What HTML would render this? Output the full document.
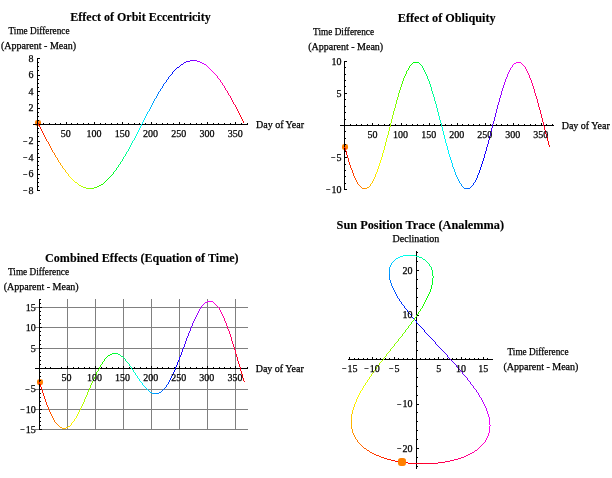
<!DOCTYPE html>
<html><head><meta charset="utf-8"><title>Equation of Time</title>
<style>html,body{margin:0;padding:0;background:#fff}svg{display:block;will-change:transform}text{font-family:"Liberation Serif","Times New Roman",serif;fill:#000;stroke:#000;stroke-width:.25px}text[font-weight=bold]{stroke-width:.12px}</style>
</head><body>
<svg width="612" height="478" viewBox="0 0 612 478">
<rect width="612" height="478" fill="#fff"/>
<rect x="35.00" y="120.00" width="6" height="6" rx="2.16" fill="#ff8000"/>
<g shape-rendering="crispEdges">
<rect x="33" y="124" width="215" height="1" fill="#000"/>
<rect x="37" y="58" width="1" height="133" fill="#000"/>
<rect x="43" y="123" width="1" height="1" fill="#000"/>
<rect x="49" y="123" width="1" height="1" fill="#000"/>
<rect x="55" y="123" width="1" height="1" fill="#000"/>
<rect x="60" y="123" width="1" height="1" fill="#000"/>
<rect x="66" y="122" width="1" height="2" fill="#000"/>
<rect x="71" y="123" width="1" height="1" fill="#000"/>
<rect x="77" y="123" width="1" height="1" fill="#000"/>
<rect x="83" y="123" width="1" height="1" fill="#000"/>
<rect x="88" y="123" width="1" height="1" fill="#000"/>
<rect x="94" y="122" width="1" height="2" fill="#000"/>
<rect x="100" y="123" width="1" height="1" fill="#000"/>
<rect x="105" y="123" width="1" height="1" fill="#000"/>
<rect x="111" y="123" width="1" height="1" fill="#000"/>
<rect x="117" y="123" width="1" height="1" fill="#000"/>
<rect x="122" y="122" width="1" height="2" fill="#000"/>
<rect x="128" y="123" width="1" height="1" fill="#000"/>
<rect x="134" y="123" width="1" height="1" fill="#000"/>
<rect x="139" y="123" width="1" height="1" fill="#000"/>
<rect x="145" y="123" width="1" height="1" fill="#000"/>
<rect x="151" y="122" width="1" height="2" fill="#000"/>
<rect x="156" y="123" width="1" height="1" fill="#000"/>
<rect x="162" y="123" width="1" height="1" fill="#000"/>
<rect x="167" y="123" width="1" height="1" fill="#000"/>
<rect x="173" y="123" width="1" height="1" fill="#000"/>
<rect x="179" y="122" width="1" height="2" fill="#000"/>
<rect x="184" y="123" width="1" height="1" fill="#000"/>
<rect x="190" y="123" width="1" height="1" fill="#000"/>
<rect x="196" y="123" width="1" height="1" fill="#000"/>
<rect x="201" y="123" width="1" height="1" fill="#000"/>
<rect x="207" y="122" width="1" height="2" fill="#000"/>
<rect x="213" y="123" width="1" height="1" fill="#000"/>
<rect x="218" y="123" width="1" height="1" fill="#000"/>
<rect x="224" y="123" width="1" height="1" fill="#000"/>
<rect x="230" y="123" width="1" height="1" fill="#000"/>
<rect x="235" y="122" width="1" height="2" fill="#000"/>
<rect x="241" y="123" width="1" height="1" fill="#000"/>
<rect x="247" y="123" width="1" height="1" fill="#000"/>
<rect x="38" y="190" width="2" height="1" fill="#000"/>
<rect x="38" y="186" width="1" height="1" fill="#000"/>
<rect x="38" y="182" width="1" height="1" fill="#000"/>
<rect x="38" y="178" width="1" height="1" fill="#000"/>
<rect x="38" y="174" width="2" height="1" fill="#000"/>
<rect x="38" y="169" width="1" height="1" fill="#000"/>
<rect x="38" y="165" width="1" height="1" fill="#000"/>
<rect x="38" y="161" width="1" height="1" fill="#000"/>
<rect x="38" y="157" width="2" height="1" fill="#000"/>
<rect x="38" y="153" width="1" height="1" fill="#000"/>
<rect x="38" y="149" width="1" height="1" fill="#000"/>
<rect x="38" y="145" width="1" height="1" fill="#000"/>
<rect x="38" y="141" width="2" height="1" fill="#000"/>
<rect x="38" y="136" width="1" height="1" fill="#000"/>
<rect x="38" y="132" width="1" height="1" fill="#000"/>
<rect x="38" y="128" width="1" height="1" fill="#000"/>
<rect x="38" y="124" width="2" height="1" fill="#000"/>
<rect x="38" y="120" width="1" height="1" fill="#000"/>
<rect x="38" y="116" width="1" height="1" fill="#000"/>
<rect x="38" y="112" width="1" height="1" fill="#000"/>
<rect x="38" y="108" width="2" height="1" fill="#000"/>
<rect x="38" y="103" width="1" height="1" fill="#000"/>
<rect x="38" y="99" width="1" height="1" fill="#000"/>
<rect x="38" y="95" width="1" height="1" fill="#000"/>
<rect x="38" y="91" width="2" height="1" fill="#000"/>
<rect x="38" y="87" width="1" height="1" fill="#000"/>
<rect x="38" y="83" width="1" height="1" fill="#000"/>
<rect x="38" y="79" width="1" height="1" fill="#000"/>
<rect x="38" y="75" width="2" height="1" fill="#000"/>
<rect x="38" y="70" width="1" height="1" fill="#000"/>
<rect x="38" y="66" width="1" height="1" fill="#000"/>
<rect x="38" y="62" width="1" height="1" fill="#000"/>
<rect x="38" y="58" width="2" height="1" fill="#000"/>
</g>
<g shape-rendering="crispEdges">
<path fill="#ff0b00" d="M38 123h1v1h-1zM38 124h1v1h-1zM39 125h1v1h-1zM39 126h1v1h-1zM40 127h1v1h-1zM40 128h1v1h-1z"/>
<path fill="#ff2000" d="M41 129h1v1h-1zM41 130h1v1h-1zM42 131h1v1h-1zM42 132h1v1h-1zM43 133h1v1h-1zM43 134h1v1h-1z"/>
<path fill="#ff3500" d="M44 135h1v1h-1zM44 136h1v1h-1zM45 137h1v1h-1zM45 138h1v1h-1zM46 139h1v1h-1z"/>
<path fill="#ff4a00" d="M46 140h1v1h-1zM47 141h1v1h-1zM48 142h1v1h-1zM48 143h1v1h-1zM49 144h1v1h-1z"/>
<path fill="#ff6000" d="M49 145h1v1h-1zM50 146h1v1h-1zM50 147h1v1h-1zM51 148h1v1h-1zM51 149h1v1h-1zM52 150h1v1h-1z"/>
<path fill="#ff7500" d="M52 151h1v1h-1zM53 152h1v1h-1zM54 153h1v1h-1zM54 154h1v1h-1z"/>
<path fill="#ff8a00" d="M55 155h1v1h-1zM55 156h1v1h-1zM56 157h1v1h-1zM57 158h1v1h-1zM57 159h1v1h-1z"/>
<path fill="#ff9f00" d="M58 160h1v1h-1zM58 161h1v1h-1zM59 162h1v1h-1zM60 163h1v1h-1zM60 164h1v1h-1z"/>
<path fill="#ffb500" d="M61 165h1v1h-1zM62 166h1v1h-1zM62 167h1v1h-1zM63 168h1v1h-1z"/>
<path fill="#ffca00" d="M64 169h1v1h-1zM65 170h1v1h-1zM65 171h1v1h-1zM66 172h1v1h-1z"/>
<path fill="#ffdf00" d="M67 173h1v1h-1zM68 174h1v1h-1zM68 175h1v1h-1z"/>
<path fill="#fff400" d="M69 176h1v1h-1zM70 177h1v1h-1zM71 178h1v1h-1z"/>
<path fill="#f4ff00" d="M72 179h1v1h-1zM73 180h1v1h-1zM74 181h1v1h-1z"/>
<path fill="#dfff00" d="M75 182h1v1h-1zM76 182h1v1h-1zM77 183h1v1h-1z"/>
<path fill="#caff00" d="M78 184h1v1h-1zM79 185h1v1h-1zM80 185h1v1h-1z"/>
<path fill="#b5ff00" d="M81 186h1v1h-1zM82 186h1v1h-1zM83 187h1v1h-1z"/>
<path fill="#9fff00" d="M84 187h1v1h-1zM85 187h1v1h-1zM86 188h1v1h-1z"/>
<path fill="#8aff00" d="M87 188h1v1h-1zM88 188h1v1h-1zM89 188h1v1h-1z"/>
<path fill="#75ff00" d="M90 188h1v1h-1zM91 188h1v1h-1z"/>
<path fill="#60ff00" d="M92 188h1v1h-1zM93 188h1v1h-1zM94 187h1v1h-1z"/>
<path fill="#4aff00" d="M95 187h1v1h-1zM96 187h1v1h-1zM97 186h1v1h-1z"/>
<path fill="#35ff00" d="M98 186h1v1h-1zM99 185h1v1h-1zM100 185h1v1h-1z"/>
<path fill="#20ff00" d="M101 184h1v1h-1zM102 184h1v1h-1zM103 183h1v1h-1z"/>
<path fill="#0bff00" d="M104 182h1v1h-1zM105 181h1v1h-1zM106 180h1v1h-1z"/>
<path fill="#00ff0b" d="M107 179h1v1h-1zM108 178h1v1h-1z"/>
<path fill="#00ff20" d="M109 177h1v1h-1zM110 176h1v1h-1zM111 175h1v1h-1zM112 174h1v1h-1z"/>
<path fill="#00ff35" d="M113 173h1v1h-1zM113 172h1v1h-1zM114 171h1v1h-1z"/>
<path fill="#00ff4a" d="M115 170h1v1h-1zM116 169h1v1h-1zM116 168h1v1h-1zM117 167h1v1h-1z"/>
<path fill="#00ff60" d="M118 166h1v1h-1zM118 165h1v1h-1zM119 164h1v1h-1zM120 163h1v1h-1zM120 162h1v1h-1z"/>
<path fill="#00ff75" d="M121 161h1v1h-1zM122 160h1v1h-1zM122 159h1v1h-1zM123 158h1v1h-1z"/>
<path fill="#00ff8a" d="M123 157h1v1h-1zM124 156h1v1h-1zM125 155h1v1h-1zM125 154h1v1h-1zM126 153h1v1h-1z"/>
<path fill="#00ff9f" d="M126 152h1v1h-1zM127 151h1v1h-1zM128 150h1v1h-1zM128 149h1v1h-1zM129 148h1v1h-1z"/>
<path fill="#00ffb5" d="M129 147h1v1h-1zM130 146h1v1h-1zM130 145h1v1h-1zM131 144h1v1h-1zM131 143h1v1h-1zM132 142h1v1h-1z"/>
<path fill="#00ffca" d="M132 141h1v1h-1zM133 140h1v1h-1zM134 139h1v1h-1zM134 138h1v1h-1zM135 137h1v1h-1z"/>
<path fill="#00ffdf" d="M135 136h1v1h-1zM136 135h1v1h-1zM136 134h1v1h-1zM137 133h1v1h-1zM137 132h1v1h-1zM138 131h1v1h-1z"/>
<path fill="#00fff4" d="M138 130h1v1h-1zM139 129h1v1h-1zM139 128h1v1h-1zM140 127h1v1h-1zM140 126h1v1h-1z"/>
<path fill="#00f4ff" d="M141 125h1v1h-1zM141 124h1v1h-1zM142 123h1v1h-1zM142 122h1v1h-1zM143 121h1v1h-1zM143 120h1v1h-1z"/>
<path fill="#00dfff" d="M144 119h1v1h-1zM144 118h1v1h-1zM145 117h1v1h-1zM145 116h1v1h-1zM146 115h1v1h-1z"/>
<path fill="#00caff" d="M146 114h1v1h-1zM147 113h1v1h-1zM147 112h1v1h-1zM148 111h1v1h-1zM149 110h1v1h-1zM149 109h1v1h-1z"/>
<path fill="#00b5ff" d="M150 108h1v1h-1zM150 107h1v1h-1zM151 106h1v1h-1zM151 105h1v1h-1zM152 104h1v1h-1z"/>
<path fill="#009fff" d="M152 103h1v1h-1zM153 102h1v1h-1zM153 101h1v1h-1zM154 100h1v1h-1zM154 99h1v1h-1z"/>
<path fill="#008aff" d="M155 98h1v1h-1zM156 97h1v1h-1zM156 96h1v1h-1zM157 95h1v1h-1zM157 94h1v1h-1z"/>
<path fill="#0075ff" d="M158 93h1v1h-1zM158 92h1v1h-1zM159 91h1v1h-1zM160 90h1v1h-1zM160 89h1v1h-1z"/>
<path fill="#0060ff" d="M161 88h1v1h-1zM162 87h1v1h-1zM162 86h1v1h-1zM163 85h1v1h-1zM163 84h1v1h-1z"/>
<path fill="#004aff" d="M164 83h1v1h-1zM165 82h1v1h-1zM166 81h1v1h-1zM166 80h1v1h-1z"/>
<path fill="#0035ff" d="M167 79h1v1h-1zM168 78h1v1h-1zM168 77h1v1h-1zM169 76h1v1h-1z"/>
<path fill="#0020ff" d="M170 75h1v1h-1zM171 74h1v1h-1zM172 73h1v1h-1z"/>
<path fill="#000bff" d="M172 72h1v1h-1zM173 71h1v1h-1zM174 70h1v1h-1z"/>
<path fill="#0b00ff" d="M175 69h1v1h-1zM176 68h1v1h-1zM177 67h1v1h-1z"/>
<path fill="#2000ff" d="M178 67h1v1h-1zM179 66h1v1h-1zM180 65h1v1h-1z"/>
<path fill="#3500ff" d="M181 64h1v1h-1zM182 64h1v1h-1zM183 63h1v1h-1z"/>
<path fill="#4a00ff" d="M184 62h1v1h-1zM185 62h1v1h-1zM186 61h1v1h-1z"/>
<path fill="#6000ff" d="M187 61h1v1h-1zM188 61h1v1h-1zM189 61h1v1h-1z"/>
<path fill="#7500ff" d="M190 60h1v1h-1zM191 60h1v1h-1zM192 60h1v1h-1z"/>
<path fill="#8a00ff" d="M193 60h1v1h-1zM194 60h1v1h-1zM195 60h1v1h-1z"/>
<path fill="#9f00ff" d="M196 60h1v1h-1zM197 61h1v1h-1z"/>
<path fill="#b500ff" d="M198 61h1v1h-1zM199 61h1v1h-1zM200 62h1v1h-1z"/>
<path fill="#ca00ff" d="M201 62h1v1h-1zM202 63h1v1h-1zM203 63h1v1h-1z"/>
<path fill="#df00ff" d="M204 64h1v1h-1zM205 64h1v1h-1zM206 65h1v1h-1z"/>
<path fill="#f400ff" d="M207 66h1v1h-1zM208 67h1v1h-1zM209 68h1v1h-1z"/>
<path fill="#ff00f4" d="M210 69h1v1h-1zM211 70h1v1h-1z"/>
<path fill="#ff00df" d="M212 71h1v1h-1zM213 72h1v1h-1zM214 73h1v1h-1zM215 74h1v1h-1z"/>
<path fill="#ff00ca" d="M216 75h1v1h-1zM217 76h1v1h-1zM217 77h1v1h-1z"/>
<path fill="#ff00b5" d="M218 78h1v1h-1zM219 79h1v1h-1zM220 80h1v1h-1zM220 81h1v1h-1z"/>
<path fill="#ff009f" d="M221 82h1v1h-1zM222 83h1v1h-1zM222 84h1v1h-1zM223 85h1v1h-1zM224 86h1v1h-1z"/>
<path fill="#ff008a" d="M224 87h1v1h-1zM225 88h1v1h-1zM225 89h1v1h-1zM226 90h1v1h-1z"/>
<path fill="#ff0075" d="M227 91h1v1h-1zM227 92h1v1h-1zM228 93h1v1h-1zM228 94h1v1h-1zM229 95h1v1h-1z"/>
<path fill="#ff0060" d="M230 96h1v1h-1zM230 97h1v1h-1zM231 98h1v1h-1zM231 99h1v1h-1zM232 100h1v1h-1z"/>
<path fill="#ff004a" d="M232 101h1v1h-1zM233 102h1v1h-1zM233 103h1v1h-1zM234 104h1v1h-1zM235 105h1v1h-1zM235 106h1v1h-1z"/>
<path fill="#ff0035" d="M236 107h1v1h-1zM236 108h1v1h-1zM237 109h1v1h-1zM237 110h1v1h-1zM238 111h1v1h-1z"/>
<path fill="#ff0020" d="M238 112h1v1h-1zM239 113h1v1h-1zM239 114h1v1h-1zM240 115h1v1h-1zM240 116h1v1h-1zM241 117h1v1h-1z"/>
<path fill="#ff000b" d="M241 118h1v1h-1zM242 119h1v1h-1zM242 120h1v1h-1zM243 121h1v1h-1zM243 122h1v1h-1z"/>
</g>
<text x="65.74" y="136.50" font-size="10" text-anchor="middle">50</text>
<text x="93.97" y="136.50" font-size="10" text-anchor="middle">100</text>
<text x="122.21" y="136.50" font-size="10" text-anchor="middle">150</text>
<text x="150.44" y="136.50" font-size="10" text-anchor="middle">200</text>
<text x="178.67" y="136.50" font-size="10" text-anchor="middle">250</text>
<text x="206.91" y="136.50" font-size="10" text-anchor="middle">300</text>
<text x="235.14" y="136.50" font-size="10" text-anchor="middle">350</text>
<text x="33.50" y="61.80" font-size="10" text-anchor="end">8</text>
<text x="33.50" y="78.30" font-size="10" text-anchor="end">6</text>
<text x="33.50" y="94.80" font-size="10" text-anchor="end">4</text>
<text x="33.50" y="111.30" font-size="10" text-anchor="end">2</text>
<text x="33.50" y="144.30" font-size="10" text-anchor="end"><tspan font-size="8" dy="-0.8">−</tspan><tspan dx="1" dy="0.8">2</tspan></text>
<text x="33.50" y="160.80" font-size="10" text-anchor="end"><tspan font-size="8" dy="-0.8">−</tspan><tspan dx="1" dy="0.8">4</tspan></text>
<text x="33.50" y="177.30" font-size="10" text-anchor="end"><tspan font-size="8" dy="-0.8">−</tspan><tspan dx="1" dy="0.8">6</tspan></text>
<text x="33.50" y="193.80" font-size="10" text-anchor="end"><tspan font-size="8" dy="-0.8">−</tspan><tspan dx="1" dy="0.8">8</tspan></text>
<text x="256.00" y="128.00" font-size="10" text-anchor="start">Day of Year</text>
<text x="39.00" y="33.80" font-size="10" text-anchor="middle" textLength="61" lengthAdjust="spacingAndGlyphs">Time Difference</text>
<text x="38.50" y="48.80" font-size="10" text-anchor="middle">(Apparent - Mean)</text>
<text x="140.50" y="20.70" font-size="12" text-anchor="middle" font-weight="bold">Effect of Orbit Eccentricity</text>
<rect x="342.00" y="144.00" width="6" height="6" rx="2.16" fill="#ff8000"/>
<g shape-rendering="crispEdges">
<rect x="340" y="125" width="214" height="1" fill="#000"/>
<rect x="344" y="61" width="1" height="129" fill="#000"/>
<rect x="350" y="124" width="1" height="1" fill="#000"/>
<rect x="356" y="124" width="1" height="1" fill="#000"/>
<rect x="361" y="124" width="1" height="1" fill="#000"/>
<rect x="367" y="124" width="1" height="1" fill="#000"/>
<rect x="372" y="123" width="1" height="2" fill="#000"/>
<rect x="378" y="124" width="1" height="1" fill="#000"/>
<rect x="384" y="124" width="1" height="1" fill="#000"/>
<rect x="389" y="124" width="1" height="1" fill="#000"/>
<rect x="395" y="124" width="1" height="1" fill="#000"/>
<rect x="401" y="123" width="1" height="2" fill="#000"/>
<rect x="406" y="124" width="1" height="1" fill="#000"/>
<rect x="412" y="124" width="1" height="1" fill="#000"/>
<rect x="417" y="124" width="1" height="1" fill="#000"/>
<rect x="423" y="124" width="1" height="1" fill="#000"/>
<rect x="429" y="123" width="1" height="2" fill="#000"/>
<rect x="434" y="124" width="1" height="1" fill="#000"/>
<rect x="440" y="124" width="1" height="1" fill="#000"/>
<rect x="445" y="124" width="1" height="1" fill="#000"/>
<rect x="451" y="124" width="1" height="1" fill="#000"/>
<rect x="457" y="123" width="1" height="2" fill="#000"/>
<rect x="462" y="124" width="1" height="1" fill="#000"/>
<rect x="468" y="124" width="1" height="1" fill="#000"/>
<rect x="473" y="124" width="1" height="1" fill="#000"/>
<rect x="479" y="124" width="1" height="1" fill="#000"/>
<rect x="485" y="123" width="1" height="2" fill="#000"/>
<rect x="490" y="124" width="1" height="1" fill="#000"/>
<rect x="496" y="124" width="1" height="1" fill="#000"/>
<rect x="501" y="124" width="1" height="1" fill="#000"/>
<rect x="507" y="124" width="1" height="1" fill="#000"/>
<rect x="513" y="123" width="1" height="2" fill="#000"/>
<rect x="518" y="124" width="1" height="1" fill="#000"/>
<rect x="524" y="124" width="1" height="1" fill="#000"/>
<rect x="530" y="124" width="1" height="1" fill="#000"/>
<rect x="535" y="124" width="1" height="1" fill="#000"/>
<rect x="541" y="123" width="1" height="2" fill="#000"/>
<rect x="546" y="124" width="1" height="1" fill="#000"/>
<rect x="552" y="124" width="1" height="1" fill="#000"/>
<rect x="345" y="189" width="2" height="1" fill="#000"/>
<rect x="345" y="183" width="1" height="1" fill="#000"/>
<rect x="345" y="176" width="1" height="1" fill="#000"/>
<rect x="345" y="170" width="1" height="1" fill="#000"/>
<rect x="345" y="164" width="1" height="1" fill="#000"/>
<rect x="345" y="157" width="2" height="1" fill="#000"/>
<rect x="345" y="151" width="1" height="1" fill="#000"/>
<rect x="345" y="144" width="1" height="1" fill="#000"/>
<rect x="345" y="138" width="1" height="1" fill="#000"/>
<rect x="345" y="131" width="1" height="1" fill="#000"/>
<rect x="345" y="125" width="2" height="1" fill="#000"/>
<rect x="345" y="119" width="1" height="1" fill="#000"/>
<rect x="345" y="112" width="1" height="1" fill="#000"/>
<rect x="345" y="106" width="1" height="1" fill="#000"/>
<rect x="345" y="99" width="1" height="1" fill="#000"/>
<rect x="345" y="93" width="2" height="1" fill="#000"/>
<rect x="345" y="86" width="1" height="1" fill="#000"/>
<rect x="345" y="80" width="1" height="1" fill="#000"/>
<rect x="345" y="74" width="1" height="1" fill="#000"/>
<rect x="345" y="67" width="1" height="1" fill="#000"/>
<rect x="345" y="61" width="2" height="1" fill="#000"/>
</g>
<g shape-rendering="crispEdges">
<path fill="#ff0b00" d="M344 147h1v1h-1zM345 148h1v1h-1zM345 149h1v1h-1zM345 150h1v1h-1zM346 151h1v1h-1zM346 152h1v1h-1zM346 153h1v1h-1zM346 154h1v1h-1zM347 155h1v1h-1zM347 156h1v1h-1z"/>
<path fill="#ff2000" d="M347 157h1v1h-1zM348 158h1v1h-1zM348 159h1v1h-1zM348 160h1v1h-1zM348 161h1v1h-1zM349 162h1v1h-1zM349 163h1v1h-1zM349 164h1v1h-1zM350 165h1v1h-1z"/>
<path fill="#ff3500" d="M350 166h1v1h-1zM350 167h1v1h-1zM351 168h1v1h-1zM351 169h1v1h-1zM352 170h1v1h-1zM352 171h1v1h-1zM352 172h1v1h-1zM353 173h1v1h-1z"/>
<path fill="#ff4a00" d="M353 174h1v1h-1zM353 175h1v1h-1zM354 176h1v1h-1zM354 177h1v1h-1zM355 178h1v1h-1zM355 179h1v1h-1z"/>
<path fill="#ff6000" d="M356 180h1v1h-1zM356 181h1v1h-1zM357 182h1v1h-1zM357 183h1v1h-1zM358 184h1v1h-1z"/>
<path fill="#ff7500" d="M359 185h1v1h-1zM360 186h1v1h-1zM361 187h1v1h-1z"/>
<path fill="#ff8a00" d="M362 188h1v1h-1zM363 188h1v1h-1zM364 188h1v1h-1z"/>
<path fill="#ff9f00" d="M365 188h1v1h-1zM366 188h1v1h-1zM367 187h1v1h-1z"/>
<path fill="#ffb500" d="M368 187h1v1h-1zM369 186h1v1h-1zM370 185h1v1h-1z"/>
<path fill="#ffca00" d="M370 184h1v1h-1zM371 183h1v1h-1zM372 182h1v1h-1zM372 181h1v1h-1zM373 180h1v1h-1z"/>
<path fill="#ffdf00" d="M373 179h1v1h-1zM374 178h1v1h-1zM374 177h1v1h-1zM375 176h1v1h-1zM375 175h1v1h-1zM375 174h1v1h-1z"/>
<path fill="#fff400" d="M376 173h1v1h-1zM376 172h1v1h-1zM377 171h1v1h-1zM377 170h1v1h-1zM377 169h1v1h-1zM378 168h1v1h-1zM378 167h1v1h-1zM378 166h1v1h-1z"/>
<path fill="#f4ff00" d="M379 165h1v1h-1zM379 164h1v1h-1zM379 163h1v1h-1zM380 162h1v1h-1zM380 161h1v1h-1zM380 160h1v1h-1zM381 159h1v1h-1zM381 158h1v1h-1zM381 157h1v1h-1z"/>
<path fill="#dfff00" d="M382 156h1v1h-1zM382 155h1v1h-1zM382 154h1v1h-1zM382 153h1v1h-1zM383 152h1v1h-1zM383 151h1v1h-1zM383 150h1v1h-1zM384 149h1v1h-1zM384 148h1v1h-1zM384 147h1v1h-1z"/>
<path fill="#caff00" d="M384 146h1v1h-1zM385 145h1v1h-1zM385 144h1v1h-1zM385 143h1v1h-1zM385 142h1v1h-1zM386 141h1v1h-1zM386 140h1v1h-1zM386 139h1v1h-1zM386 138h1v1h-1zM387 137h1v1h-1zM387 136h1v1h-1z"/>
<path fill="#b5ff00" d="M387 135h1v1h-1zM388 134h1v1h-1zM388 133h1v1h-1zM388 132h1v1h-1zM388 131h1v1h-1zM389 130h1v1h-1zM389 129h1v1h-1zM389 128h1v1h-1zM389 127h1v1h-1zM390 126h1v1h-1zM390 125h1v1h-1z"/>
<path fill="#9fff00" d="M390 124h1v1h-1zM390 123h1v1h-1zM391 122h1v1h-1zM391 121h1v1h-1zM391 120h1v1h-1zM391 119h1v1h-1zM392 118h1v1h-1zM392 117h1v1h-1zM392 116h1v1h-1zM392 115h1v1h-1zM393 114h1v1h-1z"/>
<path fill="#8aff00" d="M393 113h1v1h-1zM393 112h1v1h-1zM393 111h1v1h-1zM394 110h1v1h-1zM394 109h1v1h-1zM394 108h1v1h-1zM395 107h1v1h-1zM395 106h1v1h-1zM395 105h1v1h-1zM395 104h1v1h-1z"/>
<path fill="#75ff00" d="M396 103h1v1h-1zM396 102h1v1h-1zM396 101h1v1h-1zM396 100h1v1h-1zM397 99h1v1h-1zM397 98h1v1h-1zM397 97h1v1h-1zM398 96h1v1h-1zM398 95h1v1h-1zM398 94h1v1h-1z"/>
<path fill="#60ff00" d="M398 93h1v1h-1zM399 92h1v1h-1zM399 91h1v1h-1zM399 90h1v1h-1zM400 89h1v1h-1zM400 88h1v1h-1zM400 87h1v1h-1zM401 86h1v1h-1zM401 85h1v1h-1z"/>
<path fill="#4aff00" d="M401 84h1v1h-1zM402 83h1v1h-1zM402 82h1v1h-1zM402 81h1v1h-1zM403 80h1v1h-1zM403 79h1v1h-1zM403 78h1v1h-1zM404 77h1v1h-1z"/>
<path fill="#35ff00" d="M404 76h1v1h-1zM405 75h1v1h-1zM405 74h1v1h-1zM406 73h1v1h-1zM406 72h1v1h-1zM406 71h1v1h-1z"/>
<path fill="#20ff00" d="M407 70h1v1h-1zM408 69h1v1h-1zM408 68h1v1h-1zM409 67h1v1h-1zM409 66h1v1h-1z"/>
<path fill="#0bff00" d="M410 65h1v1h-1zM411 64h1v1h-1zM412 63h1v1h-1z"/>
<path fill="#00ff0b" d="M413 62h1v1h-1zM414 62h1v1h-1zM415 62h1v1h-1z"/>
<path fill="#00ff20" d="M416 62h1v1h-1zM417 62h1v1h-1zM418 62h1v1h-1z"/>
<path fill="#00ff35" d="M419 63h1v1h-1zM420 64h1v1h-1zM421 65h1v1h-1z"/>
<path fill="#00ff4a" d="M422 66h1v1h-1zM422 67h1v1h-1zM423 68h1v1h-1zM423 69h1v1h-1zM424 70h1v1h-1z"/>
<path fill="#00ff60" d="M424 71h1v1h-1zM425 72h1v1h-1zM425 73h1v1h-1zM426 74h1v1h-1zM426 75h1v1h-1zM427 76h1v1h-1z"/>
<path fill="#00ff75" d="M427 77h1v1h-1zM427 78h1v1h-1zM428 79h1v1h-1zM428 80h1v1h-1zM429 81h1v1h-1zM429 82h1v1h-1zM429 83h1v1h-1zM430 84h1v1h-1z"/>
<path fill="#00ff8a" d="M430 85h1v1h-1zM430 86h1v1h-1zM431 87h1v1h-1zM431 88h1v1h-1zM431 89h1v1h-1zM431 90h1v1h-1zM432 91h1v1h-1zM432 92h1v1h-1zM432 93h1v1h-1z"/>
<path fill="#00ff9f" d="M433 94h1v1h-1zM433 95h1v1h-1zM433 96h1v1h-1zM434 97h1v1h-1zM434 98h1v1h-1zM434 99h1v1h-1zM434 100h1v1h-1zM435 101h1v1h-1zM435 102h1v1h-1zM435 103h1v1h-1z"/>
<path fill="#00ffb5" d="M436 104h1v1h-1zM436 105h1v1h-1zM436 106h1v1h-1zM436 107h1v1h-1zM437 108h1v1h-1zM437 109h1v1h-1zM437 110h1v1h-1zM437 111h1v1h-1zM438 112h1v1h-1zM438 113h1v1h-1zM438 114h1v1h-1z"/>
<path fill="#00ffca" d="M438 115h1v1h-1zM439 116h1v1h-1zM439 117h1v1h-1zM439 118h1v1h-1zM439 119h1v1h-1zM440 120h1v1h-1zM440 121h1v1h-1zM440 122h1v1h-1zM441 123h1v1h-1zM441 124h1v1h-1zM441 125h1v1h-1z"/>
<path fill="#00ffdf" d="M441 126h1v1h-1zM442 127h1v1h-1zM442 128h1v1h-1zM442 129h1v1h-1zM442 130h1v1h-1zM443 131h1v1h-1zM443 132h1v1h-1zM443 133h1v1h-1zM443 134h1v1h-1zM444 135h1v1h-1zM444 136h1v1h-1z"/>
<path fill="#00fff4" d="M444 137h1v1h-1zM444 138h1v1h-1zM445 139h1v1h-1zM445 140h1v1h-1zM445 141h1v1h-1zM445 142h1v1h-1zM446 143h1v1h-1zM446 144h1v1h-1zM446 145h1v1h-1zM447 146h1v1h-1z"/>
<path fill="#00f4ff" d="M447 147h1v1h-1zM447 148h1v1h-1zM447 149h1v1h-1zM448 150h1v1h-1zM448 151h1v1h-1zM448 152h1v1h-1zM448 153h1v1h-1zM449 154h1v1h-1zM449 155h1v1h-1zM449 156h1v1h-1z"/>
<path fill="#00dfff" d="M450 157h1v1h-1zM450 158h1v1h-1zM450 159h1v1h-1zM451 160h1v1h-1zM451 161h1v1h-1zM451 162h1v1h-1zM452 163h1v1h-1zM452 164h1v1h-1zM452 165h1v1h-1z"/>
<path fill="#00caff" d="M452 166h1v1h-1zM453 167h1v1h-1zM453 168h1v1h-1zM454 169h1v1h-1zM454 170h1v1h-1zM454 171h1v1h-1zM455 172h1v1h-1zM455 173h1v1h-1z"/>
<path fill="#00b5ff" d="M455 174h1v1h-1zM456 175h1v1h-1zM456 176h1v1h-1zM457 177h1v1h-1zM457 178h1v1h-1zM458 179h1v1h-1z"/>
<path fill="#009fff" d="M458 180h1v1h-1zM459 181h1v1h-1zM459 182h1v1h-1zM460 183h1v1h-1zM461 184h1v1h-1z"/>
<path fill="#008aff" d="M461 185h1v1h-1zM462 186h1v1h-1zM463 187h1v1h-1z"/>
<path fill="#0075ff" d="M464 188h1v1h-1zM465 188h1v1h-1zM466 188h1v1h-1z"/>
<path fill="#0060ff" d="M467 188h1v1h-1zM468 188h1v1h-1zM469 188h1v1h-1z"/>
<path fill="#004aff" d="M470 187h1v1h-1zM471 186h1v1h-1zM472 185h1v1h-1z"/>
<path fill="#0035ff" d="M473 184h1v1h-1zM473 183h1v1h-1zM474 182h1v1h-1zM475 181h1v1h-1zM475 180h1v1h-1z"/>
<path fill="#0020ff" d="M476 179h1v1h-1zM476 178h1v1h-1zM477 177h1v1h-1zM477 176h1v1h-1zM477 175h1v1h-1zM478 174h1v1h-1z"/>
<path fill="#000bff" d="M478 173h1v1h-1zM479 172h1v1h-1zM479 171h1v1h-1zM479 170h1v1h-1zM480 169h1v1h-1zM480 168h1v1h-1zM480 167h1v1h-1zM481 166h1v1h-1z"/>
<path fill="#0b00ff" d="M481 165h1v1h-1zM481 164h1v1h-1zM482 163h1v1h-1zM482 162h1v1h-1zM482 161h1v1h-1zM483 160h1v1h-1zM483 159h1v1h-1zM483 158h1v1h-1zM484 157h1v1h-1z"/>
<path fill="#2000ff" d="M484 156h1v1h-1zM484 155h1v1h-1zM484 154h1v1h-1zM485 153h1v1h-1zM485 152h1v1h-1zM485 151h1v1h-1zM486 150h1v1h-1zM486 149h1v1h-1zM486 148h1v1h-1zM486 147h1v1h-1z"/>
<path fill="#3500ff" d="M487 146h1v1h-1zM487 145h1v1h-1zM487 144h1v1h-1zM488 143h1v1h-1zM488 142h1v1h-1zM488 141h1v1h-1zM488 140h1v1h-1zM489 139h1v1h-1zM489 138h1v1h-1zM489 137h1v1h-1zM489 136h1v1h-1z"/>
<path fill="#4a00ff" d="M490 135h1v1h-1zM490 134h1v1h-1zM490 133h1v1h-1zM490 132h1v1h-1zM491 131h1v1h-1zM491 130h1v1h-1zM491 129h1v1h-1zM491 128h1v1h-1zM492 127h1v1h-1zM492 126h1v1h-1zM492 125h1v1h-1z"/>
<path fill="#6000ff" d="M492 124h1v1h-1zM493 123h1v1h-1zM493 122h1v1h-1zM493 121h1v1h-1zM494 120h1v1h-1zM494 119h1v1h-1zM494 118h1v1h-1zM494 117h1v1h-1zM495 116h1v1h-1zM495 115h1v1h-1zM495 114h1v1h-1z"/>
<path fill="#7500ff" d="M495 113h1v1h-1zM496 112h1v1h-1zM496 111h1v1h-1zM496 110h1v1h-1zM496 109h1v1h-1zM497 108h1v1h-1zM497 107h1v1h-1zM497 106h1v1h-1zM497 105h1v1h-1zM498 104h1v1h-1z"/>
<path fill="#8a00ff" d="M498 103h1v1h-1zM498 102h1v1h-1zM499 101h1v1h-1zM499 100h1v1h-1zM499 99h1v1h-1zM499 98h1v1h-1zM500 97h1v1h-1zM500 96h1v1h-1zM500 95h1v1h-1zM501 94h1v1h-1z"/>
<path fill="#9f00ff" d="M501 93h1v1h-1zM501 92h1v1h-1zM501 91h1v1h-1zM502 90h1v1h-1zM502 89h1v1h-1zM502 88h1v1h-1zM503 87h1v1h-1zM503 86h1v1h-1zM503 85h1v1h-1z"/>
<path fill="#b500ff" d="M504 84h1v1h-1zM504 83h1v1h-1zM504 82h1v1h-1zM505 81h1v1h-1zM505 80h1v1h-1zM505 79h1v1h-1zM506 78h1v1h-1zM506 77h1v1h-1z"/>
<path fill="#ca00ff" d="M507 76h1v1h-1zM507 75h1v1h-1zM507 74h1v1h-1zM508 73h1v1h-1zM508 72h1v1h-1zM509 71h1v1h-1z"/>
<path fill="#df00ff" d="M509 70h1v1h-1zM510 69h1v1h-1zM510 68h1v1h-1zM511 67h1v1h-1zM512 66h1v1h-1z"/>
<path fill="#f400ff" d="M512 65h1v1h-1zM513 64h1v1h-1zM514 63h1v1h-1zM515 63h1v1h-1z"/>
<path fill="#ff00f4" d="M516 62h1v1h-1zM517 62h1v1h-1z"/>
<path fill="#ff00df" d="M518 62h1v1h-1zM519 62h1v1h-1zM520 62h1v1h-1z"/>
<path fill="#ff00ca" d="M521 63h1v1h-1zM522 64h1v1h-1zM523 65h1v1h-1z"/>
<path fill="#ff00b5" d="M524 66h1v1h-1zM525 67h1v1h-1zM525 68h1v1h-1zM526 69h1v1h-1zM526 70h1v1h-1z"/>
<path fill="#ff009f" d="M527 71h1v1h-1zM527 72h1v1h-1zM528 73h1v1h-1zM528 74h1v1h-1zM529 75h1v1h-1zM529 76h1v1h-1z"/>
<path fill="#ff008a" d="M529 77h1v1h-1zM530 78h1v1h-1zM530 79h1v1h-1zM531 80h1v1h-1zM531 81h1v1h-1zM531 82h1v1h-1zM532 83h1v1h-1zM532 84h1v1h-1z"/>
<path fill="#ff0075" d="M532 85h1v1h-1zM533 86h1v1h-1zM533 87h1v1h-1zM533 88h1v1h-1zM534 89h1v1h-1zM534 90h1v1h-1zM534 91h1v1h-1zM534 92h1v1h-1zM535 93h1v1h-1z"/>
<path fill="#ff0060" d="M535 94h1v1h-1zM535 95h1v1h-1zM536 96h1v1h-1zM536 97h1v1h-1zM536 98h1v1h-1zM537 99h1v1h-1zM537 100h1v1h-1zM537 101h1v1h-1zM537 102h1v1h-1zM538 103h1v1h-1z"/>
<path fill="#ff004a" d="M538 104h1v1h-1zM538 105h1v1h-1zM538 106h1v1h-1zM539 107h1v1h-1zM539 108h1v1h-1zM539 109h1v1h-1zM540 110h1v1h-1zM540 111h1v1h-1zM540 112h1v1h-1zM540 113h1v1h-1zM541 114h1v1h-1z"/>
<path fill="#ff0035" d="M541 115h1v1h-1zM541 116h1v1h-1zM541 117h1v1h-1zM542 118h1v1h-1zM542 119h1v1h-1zM542 120h1v1h-1zM542 121h1v1h-1zM543 122h1v1h-1zM543 123h1v1h-1zM543 124h1v1h-1zM543 125h1v1h-1z"/>
<path fill="#ff0020" d="M544 126h1v1h-1zM544 127h1v1h-1zM544 128h1v1h-1zM544 129h1v1h-1zM545 130h1v1h-1zM545 131h1v1h-1zM545 132h1v1h-1zM545 133h1v1h-1zM546 134h1v1h-1zM546 135h1v1h-1zM546 136h1v1h-1z"/>
<path fill="#ff000b" d="M547 137h1v1h-1zM547 138h1v1h-1zM547 139h1v1h-1zM547 140h1v1h-1zM548 141h1v1h-1zM548 142h1v1h-1zM548 143h1v1h-1zM548 144h1v1h-1zM549 145h1v1h-1zM549 146h1v1h-1z"/>
</g>
<text x="372.55" y="137.50" font-size="10" text-anchor="middle">50</text>
<text x="400.60" y="137.50" font-size="10" text-anchor="middle">100</text>
<text x="428.65" y="137.50" font-size="10" text-anchor="middle">150</text>
<text x="456.70" y="137.50" font-size="10" text-anchor="middle">200</text>
<text x="484.75" y="137.50" font-size="10" text-anchor="middle">250</text>
<text x="512.80" y="137.50" font-size="10" text-anchor="middle">300</text>
<text x="540.85" y="137.50" font-size="10" text-anchor="middle">350</text>
<text x="341.50" y="64.60" font-size="10" text-anchor="end">10</text>
<text x="341.50" y="96.70" font-size="10" text-anchor="end">5</text>
<text x="341.50" y="160.90" font-size="10" text-anchor="end"><tspan font-size="8" dy="-0.8">−</tspan><tspan dx="1" dy="0.8">5</tspan></text>
<text x="341.50" y="193.00" font-size="10" text-anchor="end"><tspan font-size="8" dy="-0.8">−</tspan><tspan dx="1" dy="0.8">10</tspan></text>
<text x="561.70" y="129.00" font-size="10" text-anchor="start">Day of Year</text>
<text x="343.60" y="34.90" font-size="10" text-anchor="middle" textLength="61" lengthAdjust="spacingAndGlyphs">Time Difference</text>
<text x="345.70" y="49.90" font-size="10" text-anchor="middle">(Apparent - Mean)</text>
<text x="446.70" y="22.00" font-size="12" text-anchor="middle" font-weight="bold" textLength="97.8" lengthAdjust="spacingAndGlyphs">Effect of Obliquity</text>
<g shape-rendering="crispEdges">
<rect x="67" y="299" width="1" height="131" fill="#808080"/>
<rect x="95" y="299" width="1" height="131" fill="#808080"/>
<rect x="123" y="299" width="1" height="131" fill="#808080"/>
<rect x="151" y="299" width="1" height="131" fill="#808080"/>
<rect x="179" y="299" width="1" height="131" fill="#808080"/>
<rect x="207" y="299" width="1" height="131" fill="#808080"/>
<rect x="235" y="299" width="1" height="131" fill="#808080"/>
<rect x="35" y="307" width="213" height="1" fill="#808080"/>
<rect x="35" y="327" width="213" height="1" fill="#808080"/>
<rect x="35" y="348" width="213" height="1" fill="#808080"/>
<rect x="35" y="389" width="213" height="1" fill="#808080"/>
<rect x="35" y="409" width="213" height="1" fill="#808080"/>
<rect x="35" y="429" width="213" height="1" fill="#808080"/>
</g>
<rect x="37.00" y="379.20" width="6" height="6" rx="2.16" fill="#ff8000"/>
<g shape-rendering="crispEdges">
<rect x="35" y="368" width="213" height="1" fill="#000"/>
<rect x="39" y="299" width="1" height="131" fill="#000"/>
<rect x="45" y="367" width="1" height="1" fill="#000"/>
<rect x="50" y="367" width="1" height="1" fill="#000"/>
<rect x="61" y="367" width="1" height="1" fill="#000"/>
<rect x="67" y="366" width="1" height="2" fill="#000"/>
<rect x="73" y="367" width="1" height="1" fill="#000"/>
<rect x="78" y="367" width="1" height="1" fill="#000"/>
<rect x="84" y="367" width="1" height="1" fill="#000"/>
<rect x="89" y="367" width="1" height="1" fill="#000"/>
<rect x="95" y="366" width="1" height="2" fill="#000"/>
<rect x="101" y="367" width="1" height="1" fill="#000"/>
<rect x="106" y="367" width="1" height="1" fill="#000"/>
<rect x="112" y="367" width="1" height="1" fill="#000"/>
<rect x="118" y="367" width="1" height="1" fill="#000"/>
<rect x="123" y="366" width="1" height="2" fill="#000"/>
<rect x="129" y="367" width="1" height="1" fill="#000"/>
<rect x="134" y="367" width="1" height="1" fill="#000"/>
<rect x="140" y="367" width="1" height="1" fill="#000"/>
<rect x="146" y="367" width="1" height="1" fill="#000"/>
<rect x="151" y="366" width="1" height="2" fill="#000"/>
<rect x="157" y="367" width="1" height="1" fill="#000"/>
<rect x="162" y="367" width="1" height="1" fill="#000"/>
<rect x="168" y="367" width="1" height="1" fill="#000"/>
<rect x="174" y="367" width="1" height="1" fill="#000"/>
<rect x="179" y="366" width="1" height="2" fill="#000"/>
<rect x="185" y="367" width="1" height="1" fill="#000"/>
<rect x="190" y="367" width="1" height="1" fill="#000"/>
<rect x="196" y="367" width="1" height="1" fill="#000"/>
<rect x="202" y="367" width="1" height="1" fill="#000"/>
<rect x="207" y="366" width="1" height="2" fill="#000"/>
<rect x="213" y="367" width="1" height="1" fill="#000"/>
<rect x="219" y="367" width="1" height="1" fill="#000"/>
<rect x="224" y="367" width="1" height="1" fill="#000"/>
<rect x="230" y="367" width="1" height="1" fill="#000"/>
<rect x="235" y="366" width="1" height="2" fill="#000"/>
<rect x="247" y="367" width="1" height="1" fill="#000"/>
<rect x="40" y="429" width="2" height="1" fill="#000"/>
<rect x="40" y="425" width="1" height="1" fill="#000"/>
<rect x="40" y="421" width="1" height="1" fill="#000"/>
<rect x="40" y="417" width="1" height="1" fill="#000"/>
<rect x="40" y="413" width="1" height="1" fill="#000"/>
<rect x="40" y="409" width="2" height="1" fill="#000"/>
<rect x="40" y="405" width="1" height="1" fill="#000"/>
<rect x="40" y="401" width="1" height="1" fill="#000"/>
<rect x="40" y="397" width="1" height="1" fill="#000"/>
<rect x="40" y="393" width="1" height="1" fill="#000"/>
<rect x="40" y="389" width="2" height="1" fill="#000"/>
<rect x="40" y="384" width="1" height="1" fill="#000"/>
<rect x="40" y="380" width="1" height="1" fill="#000"/>
<rect x="40" y="376" width="1" height="1" fill="#000"/>
<rect x="40" y="372" width="1" height="1" fill="#000"/>
<rect x="40" y="368" width="2" height="1" fill="#000"/>
<rect x="40" y="364" width="1" height="1" fill="#000"/>
<rect x="40" y="360" width="1" height="1" fill="#000"/>
<rect x="40" y="356" width="1" height="1" fill="#000"/>
<rect x="40" y="352" width="1" height="1" fill="#000"/>
<rect x="40" y="348" width="2" height="1" fill="#000"/>
<rect x="40" y="344" width="1" height="1" fill="#000"/>
<rect x="40" y="340" width="1" height="1" fill="#000"/>
<rect x="40" y="335" width="1" height="1" fill="#000"/>
<rect x="40" y="331" width="1" height="1" fill="#000"/>
<rect x="40" y="327" width="2" height="1" fill="#000"/>
<rect x="40" y="323" width="1" height="1" fill="#000"/>
<rect x="40" y="319" width="1" height="1" fill="#000"/>
<rect x="40" y="315" width="1" height="1" fill="#000"/>
<rect x="40" y="311" width="1" height="1" fill="#000"/>
<rect x="40" y="307" width="2" height="1" fill="#000"/>
<rect x="40" y="303" width="1" height="1" fill="#000"/>
<rect x="40" y="299" width="1" height="1" fill="#000"/>
</g>
<g shape-rendering="crispEdges">
<path fill="#ff0b00" d="M39 382h1v1h-1zM39 383h1v1h-1zM40 384h1v1h-1zM40 385h1v1h-1zM40 386h1v1h-1zM41 387h1v1h-1zM41 388h1v1h-1zM41 389h1v1h-1zM42 390h1v1h-1z"/>
<path fill="#ff2000" d="M42 391h1v1h-1zM42 392h1v1h-1zM43 393h1v1h-1zM43 394h1v1h-1zM43 395h1v1h-1zM44 396h1v1h-1zM44 397h1v1h-1zM44 398h1v1h-1zM45 399h1v1h-1z"/>
<path fill="#ff3500" d="M45 400h1v1h-1zM45 401h1v1h-1zM46 402h1v1h-1zM46 403h1v1h-1zM46 404h1v1h-1zM47 405h1v1h-1zM47 406h1v1h-1z"/>
<path fill="#ff4a00" d="M48 407h1v1h-1zM48 408h1v1h-1zM48 409h1v1h-1zM49 410h1v1h-1zM49 411h1v1h-1zM50 412h1v1h-1zM50 413h1v1h-1z"/>
<path fill="#ff6000" d="M51 414h1v1h-1zM51 415h1v1h-1zM52 416h1v1h-1zM52 417h1v1h-1zM53 418h1v1h-1z"/>
<path fill="#ff7500" d="M53 419h1v1h-1zM54 420h1v1h-1zM54 421h1v1h-1zM55 422h1v1h-1zM56 423h1v1h-1z"/>
<path fill="#ff8a00" d="M57 424h1v1h-1zM58 425h1v1h-1z"/>
<path fill="#ff9f00" d="M59 426h1v1h-1zM60 427h1v1h-1zM61 427h1v1h-1z"/>
<path fill="#ffb500" d="M62 428h1v1h-1zM63 428h1v1h-1zM64 428h1v1h-1z"/>
<path fill="#ffca00" d="M65 428h1v1h-1zM66 427h1v1h-1zM67 427h1v1h-1z"/>
<path fill="#ffdf00" d="M68 426h1v1h-1zM69 426h1v1h-1zM70 425h1v1h-1z"/>
<path fill="#fff400" d="M71 424h1v1h-1zM71 423h1v1h-1zM72 422h1v1h-1zM73 421h1v1h-1z"/>
<path fill="#f4ff00" d="M74 420h1v1h-1zM74 419h1v1h-1zM75 418h1v1h-1zM76 417h1v1h-1z"/>
<path fill="#dfff00" d="M76 416h1v1h-1zM77 415h1v1h-1zM77 414h1v1h-1zM78 413h1v1h-1zM78 412h1v1h-1z"/>
<path fill="#caff00" d="M79 411h1v1h-1zM79 410h1v1h-1zM80 409h1v1h-1zM80 408h1v1h-1zM81 407h1v1h-1zM81 406h1v1h-1z"/>
<path fill="#b5ff00" d="M82 405h1v1h-1zM82 404h1v1h-1zM83 403h1v1h-1zM83 402h1v1h-1zM84 401h1v1h-1zM84 400h1v1h-1zM84 399h1v1h-1z"/>
<path fill="#9fff00" d="M85 398h1v1h-1zM85 397h1v1h-1zM86 396h1v1h-1zM86 395h1v1h-1zM87 394h1v1h-1zM87 393h1v1h-1z"/>
<path fill="#8aff00" d="M87 392h1v1h-1zM88 391h1v1h-1zM88 390h1v1h-1zM89 389h1v1h-1zM89 388h1v1h-1zM90 387h1v1h-1zM90 386h1v1h-1z"/>
<path fill="#75ff00" d="M90 385h1v1h-1zM91 384h1v1h-1zM91 383h1v1h-1zM92 382h1v1h-1zM92 381h1v1h-1zM93 380h1v1h-1z"/>
<path fill="#60ff00" d="M93 379h1v1h-1zM94 378h1v1h-1zM94 377h1v1h-1zM95 376h1v1h-1zM95 375h1v1h-1zM96 374h1v1h-1z"/>
<path fill="#4aff00" d="M96 373h1v1h-1zM96 372h1v1h-1zM97 371h1v1h-1zM98 370h1v1h-1zM98 369h1v1h-1zM99 368h1v1h-1z"/>
<path fill="#35ff00" d="M99 367h1v1h-1zM100 366h1v1h-1zM100 365h1v1h-1zM101 364h1v1h-1z"/>
<path fill="#20ff00" d="M102 363h1v1h-1zM102 362h1v1h-1zM103 361h1v1h-1zM104 360h1v1h-1z"/>
<path fill="#0bff00" d="M104 359h1v1h-1zM105 358h1v1h-1zM106 357h1v1h-1zM107 356h1v1h-1z"/>
<path fill="#00ff0b" d="M108 355h1v1h-1zM109 355h1v1h-1zM110 354h1v1h-1z"/>
<path fill="#00ff20" d="M111 354h1v1h-1zM112 353h1v1h-1z"/>
<path fill="#00ff35" d="M113 353h1v1h-1zM114 353h1v1h-1zM115 353h1v1h-1z"/>
<path fill="#00ff4a" d="M116 353h1v1h-1zM117 353h1v1h-1zM118 354h1v1h-1z"/>
<path fill="#00ff60" d="M119 354h1v1h-1zM120 355h1v1h-1zM121 356h1v1h-1z"/>
<path fill="#00ff75" d="M122 356h1v1h-1zM123 357h1v1h-1zM124 358h1v1h-1z"/>
<path fill="#00ff8a" d="M125 359h1v1h-1zM125 360h1v1h-1zM126 361h1v1h-1zM127 362h1v1h-1z"/>
<path fill="#00ff9f" d="M128 363h1v1h-1zM129 364h1v1h-1zM129 365h1v1h-1z"/>
<path fill="#00ffb5" d="M130 366h1v1h-1zM131 367h1v1h-1zM131 368h1v1h-1zM132 369h1v1h-1zM133 370h1v1h-1z"/>
<path fill="#00ffca" d="M133 371h1v1h-1zM134 372h1v1h-1zM135 373h1v1h-1zM135 374h1v1h-1z"/>
<path fill="#00ffdf" d="M136 375h1v1h-1zM137 376h1v1h-1zM137 377h1v1h-1zM138 378h1v1h-1z"/>
<path fill="#00fff4" d="M139 379h1v1h-1zM139 380h1v1h-1zM140 381h1v1h-1zM141 382h1v1h-1z"/>
<path fill="#00f4ff" d="M142 383h1v1h-1zM142 384h1v1h-1zM143 385h1v1h-1zM144 386h1v1h-1z"/>
<path fill="#00dfff" d="M145 387h1v1h-1zM146 388h1v1h-1zM147 389h1v1h-1z"/>
<path fill="#00caff" d="M148 390h1v1h-1zM149 391h1v1h-1z"/>
<path fill="#00b5ff" d="M150 392h1v1h-1zM151 392h1v1h-1zM152 393h1v1h-1z"/>
<path fill="#009fff" d="M153 393h1v1h-1zM154 393h1v1h-1zM155 393h1v1h-1z"/>
<path fill="#008aff" d="M156 393h1v1h-1zM157 393h1v1h-1zM158 393h1v1h-1z"/>
<path fill="#0075ff" d="M159 392h1v1h-1zM160 392h1v1h-1zM161 391h1v1h-1z"/>
<path fill="#0060ff" d="M162 390h1v1h-1zM163 389h1v1h-1zM164 388h1v1h-1z"/>
<path fill="#004aff" d="M165 387h1v1h-1zM166 386h1v1h-1zM166 385h1v1h-1zM167 384h1v1h-1z"/>
<path fill="#0035ff" d="M168 383h1v1h-1zM168 382h1v1h-1zM169 381h1v1h-1zM169 380h1v1h-1z"/>
<path fill="#0020ff" d="M170 379h1v1h-1zM170 378h1v1h-1zM171 377h1v1h-1zM171 376h1v1h-1zM172 375h1v1h-1zM172 374h1v1h-1z"/>
<path fill="#000bff" d="M173 373h1v1h-1zM173 372h1v1h-1zM174 371h1v1h-1zM174 370h1v1h-1zM175 369h1v1h-1zM175 368h1v1h-1zM175 367h1v1h-1z"/>
<path fill="#0b00ff" d="M176 366h1v1h-1zM176 365h1v1h-1zM177 364h1v1h-1zM177 363h1v1h-1zM177 362h1v1h-1zM178 361h1v1h-1zM178 360h1v1h-1z"/>
<path fill="#2000ff" d="M179 359h1v1h-1zM179 358h1v1h-1zM179 357h1v1h-1zM180 356h1v1h-1zM180 355h1v1h-1zM181 354h1v1h-1zM181 353h1v1h-1z"/>
<path fill="#3500ff" d="M181 352h1v1h-1zM182 351h1v1h-1zM182 350h1v1h-1zM182 349h1v1h-1zM183 348h1v1h-1zM183 347h1v1h-1zM184 346h1v1h-1zM184 345h1v1h-1z"/>
<path fill="#4a00ff" d="M184 344h1v1h-1zM185 343h1v1h-1zM185 342h1v1h-1zM185 341h1v1h-1zM186 340h1v1h-1zM186 339h1v1h-1zM186 338h1v1h-1zM187 337h1v1h-1z"/>
<path fill="#6000ff" d="M187 336h1v1h-1zM188 335h1v1h-1zM188 334h1v1h-1zM188 333h1v1h-1zM189 332h1v1h-1zM189 331h1v1h-1zM190 330h1v1h-1z"/>
<path fill="#7500ff" d="M190 329h1v1h-1zM190 328h1v1h-1zM191 327h1v1h-1zM191 326h1v1h-1zM192 325h1v1h-1zM192 324h1v1h-1zM192 323h1v1h-1z"/>
<path fill="#8a00ff" d="M193 322h1v1h-1zM193 321h1v1h-1zM194 320h1v1h-1zM194 319h1v1h-1zM195 318h1v1h-1zM195 317h1v1h-1z"/>
<path fill="#9f00ff" d="M196 316h1v1h-1zM196 315h1v1h-1zM197 314h1v1h-1zM197 313h1v1h-1zM198 312h1v1h-1zM198 311h1v1h-1z"/>
<path fill="#b500ff" d="M199 310h1v1h-1zM199 309h1v1h-1zM200 308h1v1h-1zM201 307h1v1h-1z"/>
<path fill="#ca00ff" d="M201 306h1v1h-1zM202 305h1v1h-1zM203 304h1v1h-1z"/>
<path fill="#df00ff" d="M204 303h1v1h-1zM205 302h1v1h-1zM206 302h1v1h-1z"/>
<path fill="#f400ff" d="M207 301h1v1h-1zM208 301h1v1h-1zM209 301h1v1h-1z"/>
<path fill="#ff00f4" d="M210 301h1v1h-1zM211 301h1v1h-1zM212 301h1v1h-1z"/>
<path fill="#ff00df" d="M213 302h1v1h-1zM214 303h1v1h-1z"/>
<path fill="#ff00ca" d="M215 304h1v1h-1zM216 305h1v1h-1zM217 306h1v1h-1zM218 307h1v1h-1z"/>
<path fill="#ff00b5" d="M219 308h1v1h-1zM219 309h1v1h-1zM220 310h1v1h-1zM220 311h1v1h-1zM221 312h1v1h-1z"/>
<path fill="#ff009f" d="M221 313h1v1h-1zM222 314h1v1h-1zM222 315h1v1h-1zM223 316h1v1h-1zM223 317h1v1h-1zM224 318h1v1h-1z"/>
<path fill="#ff008a" d="M224 319h1v1h-1zM224 320h1v1h-1zM225 321h1v1h-1zM225 322h1v1h-1zM226 323h1v1h-1zM226 324h1v1h-1zM226 325h1v1h-1z"/>
<path fill="#ff0075" d="M227 326h1v1h-1zM227 327h1v1h-1zM227 328h1v1h-1zM228 329h1v1h-1zM228 330h1v1h-1zM229 331h1v1h-1zM229 332h1v1h-1zM229 333h1v1h-1zM230 334h1v1h-1z"/>
<path fill="#ff0060" d="M230 335h1v1h-1zM230 336h1v1h-1zM231 337h1v1h-1zM231 338h1v1h-1zM231 339h1v1h-1zM231 340h1v1h-1zM232 341h1v1h-1zM232 342h1v1h-1zM232 343h1v1h-1z"/>
<path fill="#ff004a" d="M233 344h1v1h-1zM233 345h1v1h-1zM233 346h1v1h-1zM234 347h1v1h-1zM234 348h1v1h-1zM234 349h1v1h-1zM235 350h1v1h-1zM235 351h1v1h-1zM235 352h1v1h-1z"/>
<path fill="#ff0035" d="M235 353h1v1h-1zM236 354h1v1h-1zM236 355h1v1h-1zM236 356h1v1h-1zM237 357h1v1h-1zM237 358h1v1h-1zM237 359h1v1h-1zM237 360h1v1h-1zM238 361h1v1h-1zM238 362h1v1h-1z"/>
<path fill="#ff0020" d="M238 363h1v1h-1zM239 364h1v1h-1zM239 365h1v1h-1zM239 366h1v1h-1zM240 367h1v1h-1zM240 368h1v1h-1zM240 369h1v1h-1zM240 370h1v1h-1zM241 371h1v1h-1z"/>
<path fill="#ff000b" d="M241 372h1v1h-1zM241 373h1v1h-1zM242 374h1v1h-1zM242 375h1v1h-1zM242 376h1v1h-1zM242 377h1v1h-1zM243 378h1v1h-1zM243 379h1v1h-1zM243 380h1v1h-1zM244 381h1v1h-1z"/>
</g>
<text x="66.48" y="380.50" font-size="10" text-anchor="middle">50</text>
<text x="94.55" y="380.50" font-size="10" text-anchor="middle">100</text>
<text x="122.62" y="380.50" font-size="10" text-anchor="middle">150</text>
<text x="150.68" y="380.50" font-size="10" text-anchor="middle">200</text>
<text x="178.75" y="380.50" font-size="10" text-anchor="middle">250</text>
<text x="206.81" y="380.50" font-size="10" text-anchor="middle">300</text>
<text x="234.88" y="380.50" font-size="10" text-anchor="middle">350</text>
<text x="35.80" y="310.70" font-size="10" text-anchor="end">15</text>
<text x="35.80" y="331.10" font-size="10" text-anchor="end">10</text>
<text x="35.80" y="351.50" font-size="10" text-anchor="end">5</text>
<text x="35.80" y="392.30" font-size="10" text-anchor="end"><tspan font-size="8" dy="-0.8">−</tspan><tspan dx="1" dy="0.8">5</tspan></text>
<text x="35.80" y="412.70" font-size="10" text-anchor="end"><tspan font-size="8" dy="-0.8">−</tspan><tspan dx="1" dy="0.8">10</tspan></text>
<text x="35.80" y="433.10" font-size="10" text-anchor="end"><tspan font-size="8" dy="-0.8">−</tspan><tspan dx="1" dy="0.8">15</tspan></text>
<text x="255.70" y="372.00" font-size="10" text-anchor="start">Day of Year</text>
<text x="38.50" y="274.80" font-size="10" text-anchor="middle" textLength="61" lengthAdjust="spacingAndGlyphs">Time Difference</text>
<text x="41.20" y="290.40" font-size="10" text-anchor="middle">(Apparent - Mean)</text>
<text x="141.85" y="261.70" font-size="12" text-anchor="middle" font-weight="bold" textLength="193.5" lengthAdjust="spacingAndGlyphs">Combined Effects (Equation of Time)</text>
<g shape-rendering="crispEdges">
<rect x="348" y="359" width="145" height="1" fill="#000"/>
<rect x="416" y="251" width="1" height="218" fill="#000"/>
<rect x="349" y="357" width="1" height="2" fill="#000"/>
<rect x="354" y="358" width="1" height="1" fill="#000"/>
<rect x="358" y="358" width="1" height="1" fill="#000"/>
<rect x="363" y="358" width="1" height="1" fill="#000"/>
<rect x="367" y="358" width="1" height="1" fill="#000"/>
<rect x="372" y="357" width="1" height="2" fill="#000"/>
<rect x="376" y="358" width="1" height="1" fill="#000"/>
<rect x="380" y="358" width="1" height="1" fill="#000"/>
<rect x="385" y="358" width="1" height="1" fill="#000"/>
<rect x="389" y="358" width="1" height="1" fill="#000"/>
<rect x="394" y="357" width="1" height="2" fill="#000"/>
<rect x="398" y="358" width="1" height="1" fill="#000"/>
<rect x="403" y="358" width="1" height="1" fill="#000"/>
<rect x="407" y="358" width="1" height="1" fill="#000"/>
<rect x="412" y="358" width="1" height="1" fill="#000"/>
<rect x="416" y="357" width="1" height="2" fill="#000"/>
<rect x="420" y="358" width="1" height="1" fill="#000"/>
<rect x="425" y="358" width="1" height="1" fill="#000"/>
<rect x="429" y="358" width="1" height="1" fill="#000"/>
<rect x="434" y="358" width="1" height="1" fill="#000"/>
<rect x="438" y="357" width="1" height="2" fill="#000"/>
<rect x="443" y="358" width="1" height="1" fill="#000"/>
<rect x="447" y="358" width="1" height="1" fill="#000"/>
<rect x="452" y="358" width="1" height="1" fill="#000"/>
<rect x="456" y="358" width="1" height="1" fill="#000"/>
<rect x="461" y="357" width="1" height="2" fill="#000"/>
<rect x="465" y="358" width="1" height="1" fill="#000"/>
<rect x="469" y="358" width="1" height="1" fill="#000"/>
<rect x="474" y="358" width="1" height="1" fill="#000"/>
<rect x="478" y="358" width="1" height="1" fill="#000"/>
<rect x="483" y="357" width="1" height="2" fill="#000"/>
<rect x="487" y="358" width="1" height="1" fill="#000"/>
<rect x="417" y="466" width="1" height="1" fill="#000"/>
<rect x="417" y="457" width="1" height="1" fill="#000"/>
<rect x="417" y="448" width="2" height="1" fill="#000"/>
<rect x="417" y="439" width="1" height="1" fill="#000"/>
<rect x="417" y="430" width="1" height="1" fill="#000"/>
<rect x="417" y="421" width="1" height="1" fill="#000"/>
<rect x="417" y="412" width="1" height="1" fill="#000"/>
<rect x="417" y="404" width="2" height="1" fill="#000"/>
<rect x="417" y="395" width="1" height="1" fill="#000"/>
<rect x="417" y="386" width="1" height="1" fill="#000"/>
<rect x="417" y="377" width="1" height="1" fill="#000"/>
<rect x="417" y="368" width="1" height="1" fill="#000"/>
<rect x="417" y="359" width="2" height="1" fill="#000"/>
<rect x="417" y="350" width="1" height="1" fill="#000"/>
<rect x="417" y="341" width="1" height="1" fill="#000"/>
<rect x="417" y="332" width="1" height="1" fill="#000"/>
<rect x="417" y="323" width="1" height="1" fill="#000"/>
<rect x="417" y="315" width="2" height="1" fill="#000"/>
<rect x="417" y="306" width="1" height="1" fill="#000"/>
<rect x="417" y="297" width="1" height="1" fill="#000"/>
<rect x="417" y="288" width="1" height="1" fill="#000"/>
<rect x="417" y="279" width="1" height="1" fill="#000"/>
<rect x="417" y="270" width="2" height="1" fill="#000"/>
<rect x="417" y="261" width="1" height="1" fill="#000"/>
<rect x="417" y="252" width="1" height="1" fill="#000"/>
</g>
<g shape-rendering="crispEdges">
<path fill="#ff0b00" d="M401 462h1v1h-1zM400 462h1v1h-1zM399 461h1v1h-1zM398 461h1v1h-1zM397 461h1v1h-1zM396 461h1v1h-1zM395 461h1v1h-1zM394 460h1v1h-1zM393 460h1v1h-1zM392 460h1v1h-1z"/>
<path fill="#ff2000" d="M391 460h1v1h-1zM390 459h1v1h-1zM389 459h1v1h-1zM388 459h1v1h-1zM387 459h1v1h-1zM386 458h1v1h-1zM385 458h1v1h-1zM384 458h1v1h-1zM383 457h1v1h-1z"/>
<path fill="#ff3500" d="M382 457h1v1h-1zM381 457h1v1h-1zM380 456h1v1h-1zM379 456h1v1h-1zM378 455h1v1h-1zM377 455h1v1h-1zM376 455h1v1h-1zM375 454h1v1h-1zM374 454h1v1h-1z"/>
<path fill="#ff4a00" d="M373 453h1v1h-1zM372 453h1v1h-1zM371 452h1v1h-1zM370 452h1v1h-1zM369 451h1v1h-1zM368 450h1v1h-1zM367 450h1v1h-1z"/>
<path fill="#ff6000" d="M366 449h1v1h-1zM365 448h1v1h-1zM364 448h1v1h-1zM363 447h1v1h-1zM362 446h1v1h-1zM361 445h1v1h-1z"/>
<path fill="#ff7500" d="M360 444h1v1h-1zM359 443h1v1h-1zM358 442h1v1h-1zM357 441h1v1h-1zM357 440h1v1h-1z"/>
<path fill="#ff8a00" d="M356 439h1v1h-1zM355 438h1v1h-1zM355 437h1v1h-1zM354 436h1v1h-1zM354 435h1v1h-1zM353 434h1v1h-1zM353 433h1v1h-1z"/>
<path fill="#ff9f00" d="M352 432h1v1h-1zM352 431h1v1h-1zM352 430h1v1h-1zM352 429h1v1h-1zM351 428h1v1h-1zM351 427h1v1h-1z"/>
<path fill="#ffb500" d="M351 426h1v1h-1zM351 425h1v1h-1zM351 424h1v1h-1zM351 423h1v1h-1zM351 422h1v1h-1zM351 421h1v1h-1zM351 420h1v1h-1z"/>
<path fill="#ffca00" d="M351 419h1v1h-1zM351 418h1v1h-1zM351 417h1v1h-1zM351 416h1v1h-1zM351 415h1v1h-1zM351 414h1v1h-1zM352 413h1v1h-1zM352 412h1v1h-1z"/>
<path fill="#ffdf00" d="M352 411h1v1h-1zM352 410h1v1h-1zM353 409h1v1h-1zM353 408h1v1h-1zM353 407h1v1h-1zM354 406h1v1h-1zM354 405h1v1h-1zM354 404h1v1h-1z"/>
<path fill="#fff400" d="M355 403h1v1h-1zM355 402h1v1h-1zM356 401h1v1h-1zM356 400h1v1h-1zM356 399h1v1h-1zM357 398h1v1h-1zM357 397h1v1h-1zM358 396h1v1h-1zM358 395h1v1h-1z"/>
<path fill="#f4ff00" d="M359 394h1v1h-1zM359 393h1v1h-1zM360 392h1v1h-1zM360 391h1v1h-1zM361 390h1v1h-1zM362 389h1v1h-1zM362 388h1v1h-1zM363 387h1v1h-1z"/>
<path fill="#dfff00" d="M363 386h1v1h-1zM364 385h1v1h-1zM365 384h1v1h-1zM365 383h1v1h-1zM366 382h1v1h-1zM367 381h1v1h-1zM367 380h1v1h-1zM368 379h1v1h-1zM369 378h1v1h-1z"/>
<path fill="#caff00" d="M369 377h1v1h-1zM370 376h1v1h-1zM371 375h1v1h-1zM371 374h1v1h-1zM372 373h1v1h-1zM373 372h1v1h-1zM373 371h1v1h-1zM374 370h1v1h-1zM375 369h1v1h-1z"/>
<path fill="#b5ff00" d="M376 368h1v1h-1zM376 367h1v1h-1zM377 366h1v1h-1zM378 365h1v1h-1zM379 364h1v1h-1zM379 363h1v1h-1zM380 362h1v1h-1zM381 361h1v1h-1zM382 360h1v1h-1z"/>
<path fill="#9fff00" d="M383 359h1v1h-1zM383 358h1v1h-1zM384 357h1v1h-1zM385 356h1v1h-1zM386 355h1v1h-1zM386 354h1v1h-1zM387 353h1v1h-1zM388 352h1v1h-1zM389 351h1v1h-1z"/>
<path fill="#8aff00" d="M390 350h1v1h-1zM390 349h1v1h-1zM391 348h1v1h-1zM392 347h1v1h-1zM393 346h1v1h-1zM394 345h1v1h-1zM394 344h1v1h-1zM395 343h1v1h-1zM396 342h1v1h-1z"/>
<path fill="#75ff00" d="M397 341h1v1h-1zM398 340h1v1h-1zM398 339h1v1h-1zM399 338h1v1h-1zM400 337h1v1h-1zM401 336h1v1h-1zM402 335h1v1h-1zM402 334h1v1h-1zM403 333h1v1h-1z"/>
<path fill="#60ff00" d="M404 332h1v1h-1zM405 331h1v1h-1zM405 330h1v1h-1zM406 329h1v1h-1zM407 328h1v1h-1zM408 327h1v1h-1zM408 326h1v1h-1zM409 325h1v1h-1zM410 324h1v1h-1z"/>
<path fill="#4aff00" d="M411 323h1v1h-1zM411 322h1v1h-1zM412 321h1v1h-1zM413 320h1v1h-1zM414 319h1v1h-1zM414 318h1v1h-1zM415 317h1v1h-1zM416 316h1v1h-1z"/>
<path fill="#35ff00" d="M416 315h1v1h-1zM417 314h1v1h-1zM418 313h1v1h-1zM418 312h1v1h-1zM419 311h1v1h-1zM420 310h1v1h-1zM420 309h1v1h-1zM421 308h1v1h-1z"/>
<path fill="#20ff00" d="M422 307h1v1h-1zM422 306h1v1h-1zM423 305h1v1h-1zM423 304h1v1h-1zM424 303h1v1h-1zM424 302h1v1h-1zM425 301h1v1h-1zM425 300h1v1h-1z"/>
<path fill="#0bff00" d="M426 299h1v1h-1zM426 298h1v1h-1zM427 297h1v1h-1zM427 296h1v1h-1zM428 295h1v1h-1zM428 294h1v1h-1zM429 293h1v1h-1z"/>
<path fill="#00ff0b" d="M429 292h1v1h-1zM430 291h1v1h-1zM430 290h1v1h-1zM430 289h1v1h-1zM431 288h1v1h-1zM431 287h1v1h-1zM431 286h1v1h-1z"/>
<path fill="#00ff20" d="M431 285h1v1h-1zM432 284h1v1h-1zM432 283h1v1h-1zM432 282h1v1h-1zM432 281h1v1h-1zM432 280h1v1h-1z"/>
<path fill="#00ff35" d="M432 279h1v1h-1zM432 278h1v1h-1zM433 277h1v1h-1zM433 276h1v1h-1zM432 275h1v1h-1zM432 274h1v1h-1z"/>
<path fill="#00ff4a" d="M432 273h1v1h-1zM432 272h1v1h-1zM432 271h1v1h-1zM432 270h1v1h-1zM431 269h1v1h-1z"/>
<path fill="#00ff60" d="M431 268h1v1h-1zM431 267h1v1h-1zM430 266h1v1h-1zM429 265h1v1h-1z"/>
<path fill="#00ff75" d="M429 264h1v1h-1zM428 263h1v1h-1zM427 262h1v1h-1z"/>
<path fill="#00ff8a" d="M426 261h1v1h-1zM425 260h1v1h-1zM424 259h1v1h-1zM423 259h1v1h-1z"/>
<path fill="#00ff9f" d="M422 258h1v1h-1zM421 257h1v1h-1zM420 257h1v1h-1zM419 257h1v1h-1z"/>
<path fill="#00ffb5" d="M418 256h1v1h-1zM417 256h1v1h-1zM416 256h1v1h-1zM415 255h1v1h-1zM414 255h1v1h-1z"/>
<path fill="#00ffca" d="M413 255h1v1h-1zM412 255h1v1h-1zM411 255h1v1h-1zM410 255h1v1h-1z"/>
<path fill="#00ffdf" d="M409 255h1v1h-1zM408 255h1v1h-1zM407 255h1v1h-1zM406 255h1v1h-1zM405 255h1v1h-1z"/>
<path fill="#00fff4" d="M404 255h1v1h-1zM403 255h1v1h-1zM402 256h1v1h-1zM401 256h1v1h-1z"/>
<path fill="#00f4ff" d="M400 256h1v1h-1zM399 257h1v1h-1zM398 257h1v1h-1zM397 258h1v1h-1z"/>
<path fill="#00dfff" d="M396 258h1v1h-1zM395 259h1v1h-1zM394 260h1v1h-1z"/>
<path fill="#00caff" d="M393 261h1v1h-1zM392 262h1v1h-1zM391 263h1v1h-1zM391 264h1v1h-1z"/>
<path fill="#00b5ff" d="M390 265h1v1h-1zM390 266h1v1h-1zM389 267h1v1h-1zM389 268h1v1h-1z"/>
<path fill="#009fff" d="M389 269h1v1h-1zM389 270h1v1h-1zM389 271h1v1h-1zM389 272h1v1h-1zM389 273h1v1h-1z"/>
<path fill="#008aff" d="M389 274h1v1h-1zM389 275h1v1h-1zM389 276h1v1h-1zM389 277h1v1h-1zM389 278h1v1h-1z"/>
<path fill="#0075ff" d="M389 279h1v1h-1zM390 280h1v1h-1zM390 281h1v1h-1zM390 282h1v1h-1zM391 283h1v1h-1zM391 284h1v1h-1zM391 285h1v1h-1z"/>
<path fill="#0060ff" d="M392 286h1v1h-1zM392 287h1v1h-1zM393 288h1v1h-1zM393 289h1v1h-1zM394 290h1v1h-1zM394 291h1v1h-1z"/>
<path fill="#004aff" d="M395 292h1v1h-1zM395 293h1v1h-1zM396 294h1v1h-1zM396 295h1v1h-1zM397 296h1v1h-1zM397 297h1v1h-1zM398 298h1v1h-1z"/>
<path fill="#0035ff" d="M399 299h1v1h-1zM399 300h1v1h-1zM400 301h1v1h-1zM401 302h1v1h-1zM401 303h1v1h-1zM402 304h1v1h-1zM403 305h1v1h-1zM404 306h1v1h-1z"/>
<path fill="#0020ff" d="M404 307h1v1h-1zM405 308h1v1h-1zM406 309h1v1h-1zM407 310h1v1h-1zM407 311h1v1h-1zM408 312h1v1h-1zM409 313h1v1h-1zM410 314h1v1h-1z"/>
<path fill="#000bff" d="M411 315h1v1h-1zM411 316h1v1h-1zM412 317h1v1h-1zM413 318h1v1h-1zM415 320h1v1h-1zM416 321h1v1h-1zM416 322h1v1h-1zM417 323h1v1h-1z"/>
<path fill="#0b00ff" d="M418 324h1v1h-1zM419 325h1v1h-1zM420 326h1v1h-1zM421 327h1v1h-1zM422 328h1v1h-1zM423 329h1v1h-1zM424 330h1v1h-1zM424 331h1v1h-1z"/>
<path fill="#2000ff" d="M425 332h1v1h-1zM426 333h1v1h-1zM427 334h1v1h-1zM428 335h1v1h-1zM429 336h1v1h-1zM430 337h1v1h-1zM431 338h1v1h-1zM432 339h1v1h-1zM433 340h1v1h-1z"/>
<path fill="#3500ff" d="M434 341h1v1h-1zM435 342h1v1h-1zM435 343h1v1h-1zM436 344h1v1h-1zM437 345h1v1h-1zM438 346h1v1h-1zM439 347h1v1h-1zM440 348h1v1h-1zM441 349h1v1h-1z"/>
<path fill="#4a00ff" d="M442 350h1v1h-1zM443 351h1v1h-1zM444 352h1v1h-1zM445 353h1v1h-1zM446 354h1v1h-1zM447 355h1v1h-1zM447 356h1v1h-1zM448 357h1v1h-1zM449 358h1v1h-1z"/>
<path fill="#6000ff" d="M450 359h1v1h-1zM451 360h1v1h-1zM452 361h1v1h-1zM453 362h1v1h-1zM454 363h1v1h-1zM455 364h1v1h-1zM456 365h1v1h-1zM456 366h1v1h-1zM457 367h1v1h-1z"/>
<path fill="#7500ff" d="M458 368h1v1h-1zM459 369h1v1h-1zM460 370h1v1h-1zM461 371h1v1h-1zM462 372h1v1h-1zM462 373h1v1h-1zM463 374h1v1h-1zM464 375h1v1h-1zM465 376h1v1h-1z"/>
<path fill="#8a00ff" d="M466 377h1v1h-1zM467 378h1v1h-1zM467 379h1v1h-1zM468 380h1v1h-1zM469 381h1v1h-1zM470 382h1v1h-1zM470 383h1v1h-1zM471 384h1v1h-1zM472 385h1v1h-1z"/>
<path fill="#9f00ff" d="M473 386h1v1h-1zM473 387h1v1h-1zM474 388h1v1h-1zM475 389h1v1h-1zM476 390h1v1h-1zM476 391h1v1h-1zM477 392h1v1h-1zM478 393h1v1h-1zM478 394h1v1h-1z"/>
<path fill="#b500ff" d="M479 395h1v1h-1zM479 396h1v1h-1zM480 397h1v1h-1zM481 398h1v1h-1zM481 399h1v1h-1zM482 400h1v1h-1zM482 401h1v1h-1zM483 402h1v1h-1z"/>
<path fill="#ca00ff" d="M483 403h1v1h-1zM484 404h1v1h-1zM484 405h1v1h-1zM485 406h1v1h-1zM485 407h1v1h-1zM486 408h1v1h-1zM486 409h1v1h-1zM486 410h1v1h-1z"/>
<path fill="#df00ff" d="M487 411h1v1h-1zM487 412h1v1h-1zM487 413h1v1h-1zM488 414h1v1h-1zM488 415h1v1h-1zM488 416h1v1h-1zM489 417h1v1h-1zM489 418h1v1h-1z"/>
<path fill="#f400ff" d="M489 419h1v1h-1zM489 420h1v1h-1zM489 421h1v1h-1zM489 422h1v1h-1zM489 423h1v1h-1zM489 424h1v1h-1zM490 425h1v1h-1z"/>
<path fill="#ff00f4" d="M489 426h1v1h-1zM489 427h1v1h-1zM489 428h1v1h-1zM489 429h1v1h-1zM489 430h1v1h-1zM489 431h1v1h-1zM489 432h1v1h-1z"/>
<path fill="#ff00df" d="M488 433h1v1h-1zM488 434h1v1h-1zM488 435h1v1h-1zM487 436h1v1h-1zM487 437h1v1h-1zM486 438h1v1h-1z"/>
<path fill="#ff00ca" d="M486 439h1v1h-1zM485 440h1v1h-1zM485 441h1v1h-1zM484 442h1v1h-1zM483 443h1v1h-1zM482 444h1v1h-1z"/>
<path fill="#ff00b5" d="M481 445h1v1h-1zM480 446h1v1h-1zM479 447h1v1h-1zM478 448h1v1h-1zM477 449h1v1h-1z"/>
<path fill="#ff009f" d="M476 450h1v1h-1zM475 450h1v1h-1zM474 451h1v1h-1zM473 452h1v1h-1zM472 452h1v1h-1zM471 453h1v1h-1zM470 453h1v1h-1z"/>
<path fill="#ff008a" d="M469 454h1v1h-1zM468 454h1v1h-1zM467 455h1v1h-1zM466 455h1v1h-1zM465 456h1v1h-1zM464 456h1v1h-1zM463 457h1v1h-1zM462 457h1v1h-1z"/>
<path fill="#ff0075" d="M461 457h1v1h-1zM460 458h1v1h-1zM459 458h1v1h-1zM458 458h1v1h-1zM457 459h1v1h-1zM456 459h1v1h-1zM455 459h1v1h-1zM454 459h1v1h-1z"/>
<path fill="#ff0060" d="M453 460h1v1h-1zM452 460h1v1h-1zM451 460h1v1h-1zM450 460h1v1h-1zM449 461h1v1h-1zM448 461h1v1h-1zM447 461h1v1h-1zM446 461h1v1h-1zM445 461h1v1h-1zM444 462h1v1h-1z"/>
<path fill="#ff004a" d="M443 462h1v1h-1zM442 462h1v1h-1zM441 462h1v1h-1zM440 462h1v1h-1zM439 462h1v1h-1zM438 462h1v1h-1zM437 463h1v1h-1zM436 463h1v1h-1zM435 463h1v1h-1zM434 463h1v1h-1z"/>
<path fill="#ff0035" d="M433 463h1v1h-1zM432 463h1v1h-1zM431 463h1v1h-1zM430 463h1v1h-1zM429 463h1v1h-1zM428 463h1v1h-1zM427 463h1v1h-1zM426 463h1v1h-1zM425 463h1v1h-1zM424 463h1v1h-1zM423 463h1v1h-1z"/>
<path fill="#ff0020" d="M422 463h1v1h-1zM421 463h1v1h-1zM420 463h1v1h-1zM419 463h1v1h-1zM418 463h1v1h-1zM417 463h1v1h-1zM416 463h1v1h-1zM415 463h1v1h-1zM414 463h1v1h-1zM413 463h1v1h-1zM412 463h1v1h-1z"/>
<path fill="#ff000b" d="M411 463h1v1h-1zM410 463h1v1h-1zM409 463h1v1h-1zM408 463h1v1h-1zM407 462h1v1h-1zM406 462h1v1h-1zM405 462h1v1h-1zM404 462h1v1h-1zM403 462h1v1h-1zM402 462h1v1h-1z"/>
</g>
<rect x="398.00" y="458.00" width="8" height="8" rx="2.88" fill="#ff8000"/>
<text x="349.75" y="371.50" font-size="10" text-anchor="middle"><tspan font-size="8" dy="-0.8">−</tspan><tspan dx="1" dy="0.8">15</tspan></text>
<text x="372.00" y="371.50" font-size="10" text-anchor="middle"><tspan font-size="8" dy="-0.8">−</tspan><tspan dx="1" dy="0.8">10</tspan></text>
<text x="394.25" y="371.50" font-size="10" text-anchor="middle"><tspan font-size="8" dy="-0.8">−</tspan><tspan dx="1" dy="0.8">5</tspan></text>
<text x="438.75" y="371.50" font-size="10" text-anchor="middle">5</text>
<text x="461.00" y="371.50" font-size="10" text-anchor="middle">10</text>
<text x="483.25" y="371.50" font-size="10" text-anchor="middle">15</text>
<text x="412.50" y="273.80" font-size="10" text-anchor="end">20</text>
<text x="412.50" y="318.30" font-size="10" text-anchor="end">10</text>
<text x="412.50" y="407.30" font-size="10" text-anchor="end"><tspan font-size="8" dy="-0.8">−</tspan><tspan dx="1" dy="0.8">10</tspan></text>
<text x="412.50" y="451.80" font-size="10" text-anchor="end"><tspan font-size="8" dy="-0.8">−</tspan><tspan dx="1" dy="0.8">20</tspan></text>
<text x="538.00" y="354.50" font-size="10" text-anchor="middle" textLength="61" lengthAdjust="spacingAndGlyphs">Time Difference</text>
<text x="540.90" y="369.50" font-size="10" text-anchor="middle">(Apparent - Mean)</text>
<text x="415.90" y="241.80" font-size="10" text-anchor="middle">Declination</text>
<text x="420.30" y="229.00" font-size="12" text-anchor="middle" font-weight="bold" textLength="167.5" lengthAdjust="spacingAndGlyphs">Sun Position Trace (Analemma)</text>
</svg></body></html>
